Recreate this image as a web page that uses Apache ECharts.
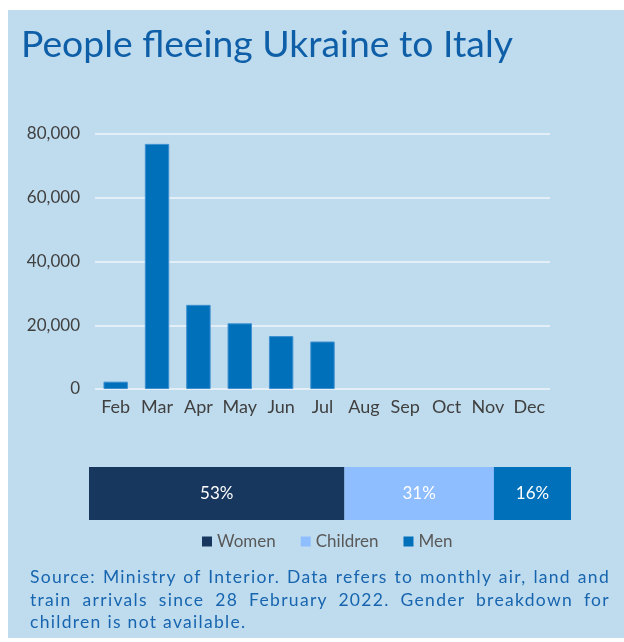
<!DOCTYPE html>
<html><head><meta charset="utf-8">
<script src="https://cdn.jsdelivr.net/npm/echarts@6/dist/echarts.min.js"></script>
<style>
html,body{margin:0;padding:0;background:#fff}
#wrap{position:relative;width:624px;height:642px}
#c{width:624px;height:642px}
#note{position:absolute;left:30px;top:566px;width:580px;font:17.5px Lato,"Noto Sans",sans-serif;line-height:22.5px;color:#1765AF;letter-spacing:1.3px}
#note div{white-space:nowrap;text-align:left}
#note div.j{text-align:justify;text-align-last:justify}
</style>
</head><body><div id="wrap"><div id="c"></div><div id="note"></div></div>
<script>
const months = ['Feb','Mar','Apr','May','Jun','Jul','Aug','Sep','Oct','Nov','Dec'];
const arrivals = [2300, 76900, 26400, 20600, 16600, 14900, null, null, null, null, null];
const yTicks = [0, 20000, 40000, 60000, 80000];
const groups = ['Women','Children','Men'];
const shares = [53, 31, 16];
const groupColors = ['#18375F','#8EBEFF','#0070BA'];
const titleText = 'People fleeing Ukraine to Italy';
const noteLines = [
  'Source: Ministry of Interior. Data refers to monthly air, land and',
  'train arrivals since 28 February 2022. Gender breakdown for',
  'children is not available.'
];

const note = document.getElementById('note');
noteLines.forEach((t,i)=>{
  const d = document.createElement('div');
  d.textContent = t;
  if (i < noteLines.length-1) d.className = 'j';
  note.appendChild(d);
});

const chart = echarts.init(document.getElementById('c'), null, {renderer:'canvas'});
const font = 'Lato, "Noto Sans", sans-serif';
chart.setOption({
  backgroundColor: '#fff',
  textStyle: {fontFamily: font},
  graphic: [
    {type:'rect', shape:{x:8, y:10, width:616, height:628}, style:{fill:'#BFDCEE'}, z:-10},
    {type:'text', left:21, top:26, style:{text:titleText, fill:'#0F5FA8', font:'37.3px '+font}}
  ],
  grid: [
    {left:95, right:74, top:134, height:255},
    {left:89, right:53, top:467, height:53}
  ],
  xAxis: [
    {gridIndex:0, type:'category', data:months, axisLine:{show:false}, axisTick:{show:false},
     axisLabel:{color:'#404040', fontSize:18, margin:9, fontFamily:font, interval:0}},
    {gridIndex:1, type:'value', min:0, max:100, show:false}
  ],
  yAxis: [
    {gridIndex:0, type:'value', min:0, max:80000, interval:20000,
     axisLabel:{color:'#404040', fontSize:17, margin:15, fontFamily:font,
       formatter: v => yTicks.includes(v) ? v.toLocaleString('en-US') : ''},
     splitLine:{lineStyle:{color:'#E4EEF6', width:2}}},
    {gridIndex:1, type:'category', data:['All'], show:false}
  ],
  legend: {
    top: 528, left:197, itemWidth:10, itemHeight:10, itemGap:25,
    icon:'rect', data: groups,
    textStyle:{color:'#595959', fontSize:17, fontFamily:font}
  },
  series: [
    {type:'bar', xAxisIndex:0, yAxisIndex:0, data:arrivals, barCategoryGap:'41%',
     itemStyle:{color:'#0070BA', borderColor:'#3D8FD0', borderWidth:1}, silent:true},
    ...groups.map((g,i)=>({
      type:'bar', name:g, xAxisIndex:1, yAxisIndex:1, stack:'s', data:[shares[i]],
      barWidth:'100%', itemStyle:{color:groupColors[i]},
      label:{show:true, position:'inside', formatter: p => p.value+'%', color:'#fff', fontSize:17, fontFamily:font}
    }))
  ]
});
</script></body></html>
